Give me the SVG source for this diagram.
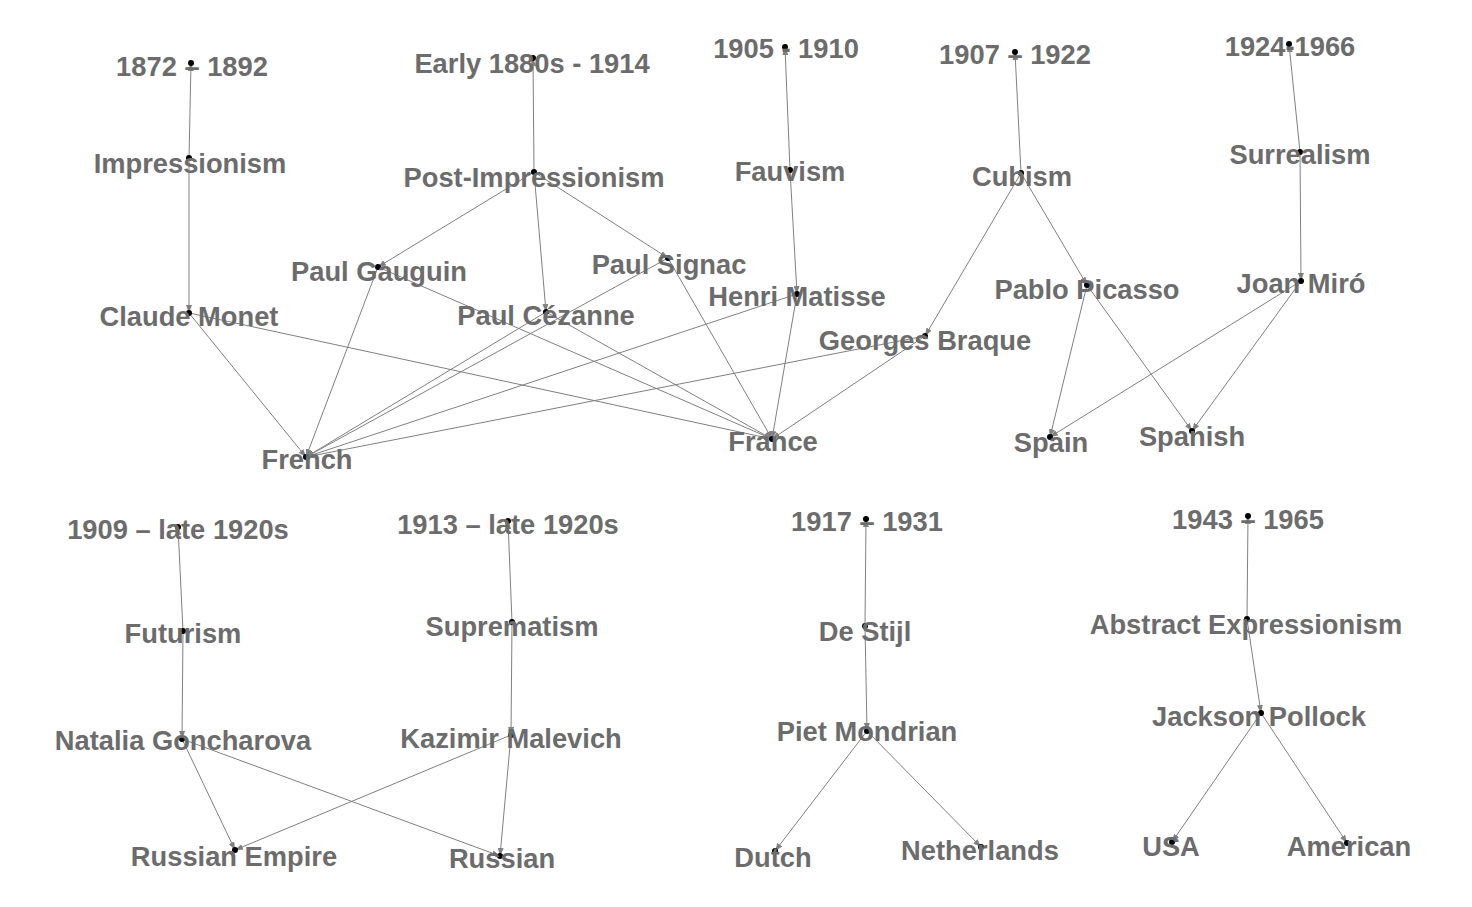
<svg xmlns="http://www.w3.org/2000/svg" width="1472" height="907" viewBox="0 0 1472 907">
<style>
.e{stroke:#808080;stroke-width:1;fill:none;marker-end:url(#ah)}
.d{fill:#000}
.t{font-family:"Liberation Sans",Arial,sans-serif;font-weight:bold;font-size:27.3px;fill:#6c6c6c;text-anchor:middle}
</style>
<defs>
<marker id="ah" markerUnits="userSpaceOnUse" markerWidth="9" markerHeight="6" refX="8" refY="3" orient="auto">
<path d="M0,0 L8,3 L0,6 z" fill="#808080"/>
</marker>
</defs>
<rect width="1472" height="907" fill="#fff"/>
<g id="connectors">
<line class="e" x1="189" y1="158" x2="191" y2="63"/>
<line class="e" x1="189" y1="158" x2="189" y2="313"/>
<line class="e" x1="189" y1="313" x2="306" y2="457"/>
<line class="e" x1="189" y1="313" x2="772" y2="439"/>
<line class="e" x1="534" y1="172" x2="533" y2="58"/>
<line class="e" x1="534" y1="172" x2="378" y2="267"/>
<line class="e" x1="534" y1="172" x2="546" y2="312"/>
<line class="e" x1="534" y1="172" x2="668" y2="258"/>
<line class="e" x1="378" y1="267" x2="306" y2="457"/>
<line class="e" x1="378" y1="267" x2="772" y2="439"/>
<line class="e" x1="546" y1="312" x2="306" y2="457"/>
<line class="e" x1="546" y1="312" x2="772" y2="439"/>
<line class="e" x1="668" y1="258" x2="306" y2="457"/>
<line class="e" x1="668" y1="258" x2="772" y2="439"/>
<line class="e" x1="790" y1="170" x2="785" y2="47"/>
<line class="e" x1="790" y1="170" x2="797" y2="294"/>
<line class="e" x1="797" y1="294" x2="306" y2="457"/>
<line class="e" x1="797" y1="294" x2="772" y2="439"/>
<line class="e" x1="1021" y1="173" x2="1015" y2="52"/>
<line class="e" x1="1021" y1="173" x2="925" y2="336"/>
<line class="e" x1="1021" y1="173" x2="1087" y2="285"/>
<line class="e" x1="925" y1="336" x2="306" y2="457"/>
<line class="e" x1="925" y1="336" x2="772" y2="439"/>
<line class="e" x1="1087" y1="285" x2="1050" y2="437"/>
<line class="e" x1="1087" y1="285" x2="1192" y2="431"/>
<line class="e" x1="1300" y1="152" x2="1289" y2="44"/>
<line class="e" x1="1300" y1="152" x2="1301" y2="281"/>
<line class="e" x1="1301" y1="281" x2="1050" y2="437"/>
<line class="e" x1="1301" y1="281" x2="1192" y2="431"/>
<line class="e" x1="183" y1="631" x2="178" y2="527"/>
<line class="e" x1="183" y1="631" x2="182" y2="739"/>
<line class="e" x1="182" y1="739" x2="235" y2="850"/>
<line class="e" x1="182" y1="739" x2="500" y2="856"/>
<line class="e" x1="512" y1="622" x2="508" y2="521"/>
<line class="e" x1="512" y1="622" x2="511" y2="735"/>
<line class="e" x1="511" y1="735" x2="235" y2="850"/>
<line class="e" x1="511" y1="735" x2="500" y2="856"/>
<line class="e" x1="865" y1="626" x2="866" y2="519"/>
<line class="e" x1="865" y1="626" x2="867" y2="731"/>
<line class="e" x1="867" y1="731" x2="775" y2="851"/>
<line class="e" x1="867" y1="731" x2="981" y2="847"/>
<line class="e" x1="1247" y1="619" x2="1248" y2="516"/>
<line class="e" x1="1247" y1="619" x2="1261" y2="713"/>
<line class="e" x1="1261" y1="713" x2="1172" y2="842"/>
<line class="e" x1="1261" y1="713" x2="1347" y2="843"/>
</g>
<g id="n-1872"><circle class="d" cx="191" cy="63" r="3"/><text class="t" x="192" y="76">1872 – 1892</text></g>
<g id="n-impressionism"><circle class="d" cx="189" cy="158" r="3"/><text class="t" x="190" y="173">Impressionism</text></g>
<g id="n-monet"><circle class="d" cx="189" cy="313" r="3"/><text class="t" x="189" y="326">Claude Monet</text></g>
<g id="n-french"><circle class="d" cx="306" cy="457" r="3"/><text class="t" x="307" y="469">French</text></g>
<g id="n-early1880s"><circle class="d" cx="533" cy="58" r="3"/><text class="t" x="532" y="73">Early 1880s - 1914</text></g>
<g id="n-postimp"><circle class="d" cx="534" cy="172" r="3"/><text class="t" x="534" y="187">Post-Impressionism</text></g>
<g id="n-gauguin"><circle class="d" cx="378" cy="267" r="3"/><text class="t" x="379" y="281">Paul Gauguin</text></g>
<g id="n-cezanne"><circle class="d" cx="546" cy="312" r="3"/><text class="t" x="546" y="325">Paul Cézanne</text></g>
<g id="n-signac"><circle class="d" cx="668" cy="258" r="3"/><text class="t" x="669" y="274">Paul Signac</text></g>
<g id="n-matisse"><circle class="d" cx="797" cy="294" r="3"/><text class="t" x="797" y="306">Henri Matisse</text></g>
<g id="n-braque"><circle class="d" cx="925" cy="336" r="3"/><text class="t" x="925" y="350">Georges Braque</text></g>
<g id="n-france"><circle class="d" cx="772" cy="439" r="3"/><text class="t" x="773" y="451">France</text></g>
<g id="n-1905"><circle class="d" cx="785" cy="47" r="3"/><text class="t" x="786" y="58">1905 - 1910</text></g>
<g id="n-fauvism"><circle class="d" cx="790" cy="170" r="3"/><text class="t" x="790" y="181">Fauvism</text></g>
<g id="n-1907"><circle class="d" cx="1015" cy="52" r="3"/><text class="t" x="1015" y="64">1907 – 1922</text></g>
<g id="n-cubism"><circle class="d" cx="1021" cy="173" r="3"/><text class="t" x="1022" y="186">Cubism</text></g>
<g id="n-picasso"><circle class="d" cx="1087" cy="285" r="3"/><text class="t" x="1087" y="299">Pablo Picasso</text></g>
<g id="n-spain"><circle class="d" cx="1050" cy="437" r="3"/><text class="t" x="1051" y="452">Spain</text></g>
<g id="n-spanish"><circle class="d" cx="1192" cy="431" r="3"/><text class="t" x="1192" y="446">Spanish</text></g>
<g id="n-1924"><circle class="d" cx="1289" cy="44" r="3"/><text class="t" x="1290" y="56">1924-1966</text></g>
<g id="n-surrealism"><circle class="d" cx="1300" cy="152" r="3"/><text class="t" x="1300" y="164">Surrealism</text></g>
<g id="n-miro"><circle class="d" cx="1301" cy="281" r="3"/><text class="t" x="1301" y="293">Joan Miró</text></g>
<g id="n-1909"><circle class="d" cx="178" cy="527" r="3"/><text class="t" x="178" y="539">1909 – late 1920s</text></g>
<g id="n-futurism"><circle class="d" cx="183" cy="631" r="3"/><text class="t" x="183" y="643">Futurism</text></g>
<g id="n-goncharova"><circle class="d" cx="182" cy="739" r="3"/><text class="t" x="183" y="750">Natalia Goncharova</text></g>
<g id="n-russianempire"><circle class="d" cx="235" cy="850" r="3"/><text class="t" x="234" y="866">Russian Empire</text></g>
<g id="n-1913"><circle class="d" cx="508" cy="521" r="3"/><text class="t" x="508" y="534">1913 – late 1920s</text></g>
<g id="n-suprematism"><circle class="d" cx="512" cy="622" r="3"/><text class="t" x="512" y="636">Suprematism</text></g>
<g id="n-malevich"><circle class="d" cx="511" cy="735" r="3"/><text class="t" x="511" y="748">Kazimir Malevich</text></g>
<g id="n-russian"><circle class="d" cx="500" cy="856" r="3"/><text class="t" x="502" y="868">Russian</text></g>
<g id="n-1917"><circle class="d" cx="866" cy="519" r="3"/><text class="t" x="867" y="531">1917 – 1931</text></g>
<g id="n-destijl"><circle class="d" cx="865" cy="626" r="3"/><text class="t" x="865" y="641">De Stijl</text></g>
<g id="n-mondrian"><circle class="d" cx="867" cy="731" r="3"/><text class="t" x="867" y="741">Piet Mondrian</text></g>
<g id="n-dutch"><circle class="d" cx="775" cy="851" r="3"/><text class="t" x="773" y="867">Dutch</text></g>
<g id="n-netherlands"><circle class="d" cx="981" cy="847" r="3"/><text class="t" x="980" y="860">Netherlands</text></g>
<g id="n-1943"><circle class="d" cx="1248" cy="516" r="3"/><text class="t" x="1248" y="529">1943 – 1965</text></g>
<g id="n-abstractexp"><circle class="d" cx="1247" cy="619" r="3"/><text class="t" x="1246" y="634">Abstract Expressionism</text></g>
<g id="n-pollock"><circle class="d" cx="1261" cy="713" r="3"/><text class="t" x="1259" y="726">Jackson Pollock</text></g>
<g id="n-usa"><circle class="d" cx="1172" cy="842" r="3"/><text class="t" x="1171" y="856">USA</text></g>
<g id="n-american"><circle class="d" cx="1347" cy="843" r="3"/><text class="t" x="1349" y="856">American</text></g>
</svg>
